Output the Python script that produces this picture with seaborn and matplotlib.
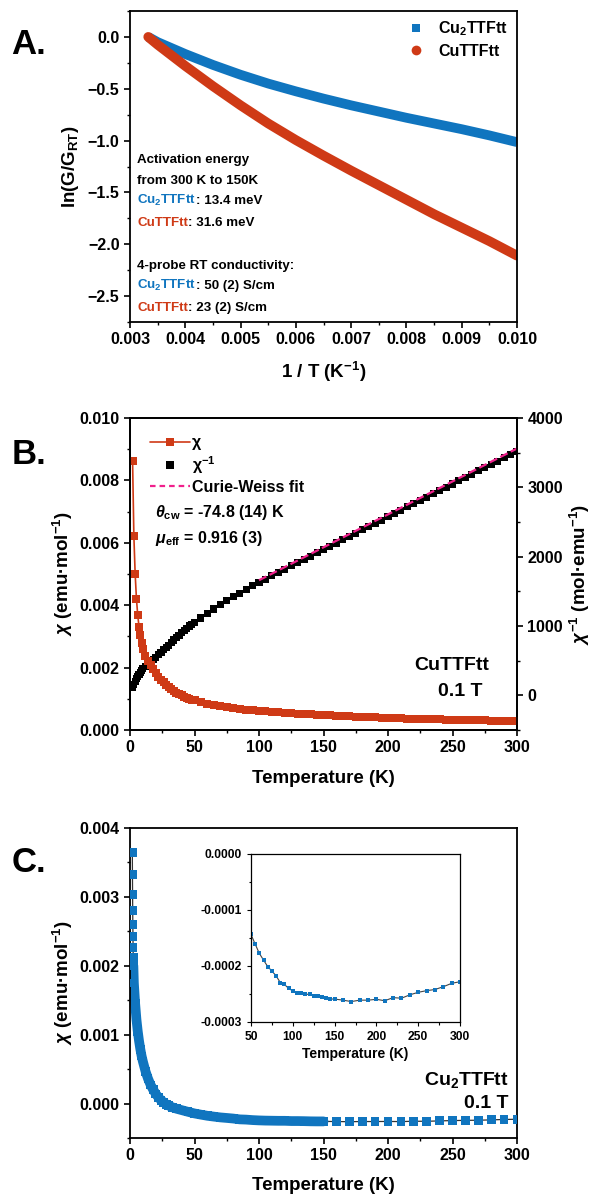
import matplotlib
matplotlib.use("Agg")
import matplotlib.pyplot as plt
from matplotlib.lines import Line2D
from matplotlib.ticker import MultipleLocator, FormatStrFormatter, FuncFormatter
import seaborn as sns

W, H = 592, 1196
BLUE = "#1075BF"
RED = "#CF3A16"
PINK = "#F0208C"

# ----------------------------------------------------------------------
# Panel A: ln(G/G_RT) vs 1/T
# ----------------------------------------------------------------------
inv_T_A = [0.00333, 0.0035, 0.004, 0.0045, 0.005, 0.0055, 0.006, 0.0065,
           0.007, 0.0075, 0.008, 0.0085, 0.009, 0.0095, 0.010]
ln_cu2_A = [0.0, -0.05, -0.165, -0.27, -0.365, -0.45, -0.525, -0.595,
            -0.66, -0.72, -0.78, -0.835, -0.89, -0.95, -1.015]
ln_cu_A = [0.0, -0.075, -0.28, -0.475, -0.66, -0.835, -0.995, -1.145,
           -1.29, -1.43, -1.57, -1.71, -1.84, -1.97, -2.11]

# ----------------------------------------------------------------------
# Panel B: CuTTFtt susceptibility (chi^-1 read off, chi = 1/chi^-1)
# ----------------------------------------------------------------------
T_B = [2, 3, 4, 5, 6, 7, 8, 9, 10,
       12, 14, 16, 18, 20, 22, 24, 26, 28, 30, 32, 34, 36, 38, 40, 42, 44, 46, 48, 50,
       55, 60, 65, 70, 75, 80, 85, 90, 95, 100,
       105, 110, 115, 120, 125, 130, 135, 140, 145, 150, 155, 160, 165, 170, 175,
       180, 185, 190, 195, 200, 205, 210, 215, 220, 225, 230, 235, 240, 245, 250,
       255, 260, 265, 270, 275, 280, 285, 290, 295, 300]
chi_inv_B = [116, 161, 200, 238, 272, 302, 330, 358, 385,
             420, 452, 482, 515, 550, 585, 620, 655, 690, 725, 762, 798, 833, 868, 903,
             938, 970, 1000, 1025, 1050,
             1115, 1180, 1245, 1305, 1365, 1420, 1475, 1528, 1580, 1630,
             1677, 1725, 1772, 1819, 1866, 1914, 1961, 2008, 2055, 2103, 2150, 2197,
             2244, 2292, 2339, 2386, 2433, 2481, 2528, 2575, 2622, 2670, 2717, 2764,
             2811, 2859, 2906, 2953, 3000, 3048, 3095, 3142, 3189, 3237, 3284, 3331,
             3378, 3426, 3473, 3520]
chi_B = [1.0 / v for v in chi_inv_B]
cw_T = [100, 300]
cw_inv = [1660, 3560]

# ----------------------------------------------------------------------
# Panel C: Cu2TTFtt susceptibility (units of 1e-3 emu/mol)
# ----------------------------------------------------------------------
T_C = [1.8, 1.9, 2.0, 2.1, 2.2, 2.3, 2.4, 2.5, 2.6,
       3, 4, 5, 6, 7, 8, 9, 10, 12, 14, 16, 18, 20, 22, 24, 26, 28, 30, 33, 36, 40, 45,
       50, 55, 60, 65, 70, 75, 80, 85, 90, 95, 100, 105, 110, 115, 120, 125, 130,
       135, 140, 145, 150,
       160, 170, 180, 190, 200, 210, 220, 230, 240, 250, 260, 270, 280, 290, 300]
chi_C = [3.65, 3.33, 3.04, 2.80, 2.60, 2.42, 2.27, 2.12, 2.00,
         1.75, 1.45, 1.22, 1.05, 0.91, 0.79, 0.69, 0.61, 0.47, 0.36, 0.27, 0.20, 0.14,
         0.09, 0.05, 0.02, -0.01, -0.03, -0.055, -0.075, -0.095, -0.12,
         -0.1435, -0.161, -0.1775, -0.1895, -0.201, -0.209, -0.2175, -0.2295, -0.233,
         -0.240, -0.2445, -0.2475, -0.249, -0.2505, -0.2505, -0.254, -0.254, -0.2555,
         -0.258, -0.259, -0.259,
         -0.261, -0.2635, -0.261, -0.261, -0.2595, -0.262, -0.2565, -0.2575, -0.2515,
         -0.247, -0.244, -0.242, -0.237, -0.231, -0.228]
chi_C = [v * 1e-3 for v in chi_C]

sns.set_theme(style="ticks", rc={
    "axes.linewidth": 1.3,
    "axes.edgecolor": "black",
    "axes.labelcolor": "black",
    "text.color": "black",
    "xtick.color": "black",
    "ytick.color": "black",
    "xtick.direction": "out",
    "ytick.direction": "out",
    "xtick.major.size": 4, "ytick.major.size": 4,
    "xtick.minor.size": 2.5, "ytick.minor.size": 2.5,
    "xtick.major.width": 1.2, "ytick.major.width": 1.2,
    "xtick.minor.width": 1.0, "ytick.minor.width": 1.0,
    "xtick.labelsize": 11.5, "ytick.labelsize": 11.5,
    "axes.labelsize": 13.5,
})
plt.rcParams["font.family"] = ["Liberation Sans", "DejaVu Sans"]
plt.rcParams["font.weight"] = "bold"
plt.rcParams["axes.labelweight"] = "bold"
plt.rcParams["mathtext.fontset"] = "custom"
plt.rcParams["mathtext.rm"] = "Liberation Sans:bold"
plt.rcParams["mathtext.bf"] = "Liberation Sans:bold"
plt.rcParams["mathtext.it"] = "Liberation Sans:italic"

fig = plt.figure(figsize=(W / 100, H / 100), dpi=100)


def box(left, top, right, bottom):
    return [left / W, 1 - bottom / H, (right - left) / W, (bottom - top) / H]


def label_pos(ax, xl=None, yl=None):
    if xl is not None:
        ax.xaxis.label.set_va("center")
        ax.xaxis.set_label_coords(0.5, xl)
    if yl is not None:
        ax.yaxis.label.set_va("center")
        ax.yaxis.label.set_ha("center")
        ax.yaxis.set_label_coords(yl, 0.5)


def put_line(parts, x, y_base, size):
    r = fig.canvas.get_renderer()
    for s, c in parts:
        t = fig.text(x / W, 1 - y_base / H, s, color=c, fontsize=size,
                     fontweight="bold", va="baseline", ha="left")
        x = t.get_window_extent(renderer=r).x1


# ---------------- A ----------------
axA = fig.add_axes(box(130, 11, 517, 322))
sns.lineplot(x=inv_T_A, y=ln_cu2_A, color=BLUE, lw=7, estimator=None, sort=False,
             solid_capstyle="butt", ax=axA)
sns.lineplot(x=inv_T_A, y=ln_cu_A, color=RED, lw=7, estimator=None, sort=False,
             solid_capstyle="round", solid_joinstyle="round", ax=axA)
axA.set_xlim(0.003, 0.010)
axA.set_ylim(-2.75, 0.25)
axA.xaxis.set_major_locator(MultipleLocator(0.001))
axA.xaxis.set_minor_locator(MultipleLocator(0.0005))
axA.xaxis.set_major_formatter(FormatStrFormatter("%.3f"))
axA.yaxis.set_major_locator(MultipleLocator(0.5))
axA.yaxis.set_minor_locator(MultipleLocator(0.25))
axA.yaxis.set_major_formatter(FuncFormatter(lambda v, p: f"{v:.1f}".replace("-", "\u2212")))
axA.set_xlabel(r"1 / T (K$^{-1}$)")
axA.set_ylabel(r"ln(G/G$_{\rm RT}$)")
label_pos(axA, xl=-0.161, yl=-0.155)
hA = [Line2D([], [], ls="none", marker="s", ms=6, color=BLUE, mew=0),
      Line2D([], [], ls="none", marker="o", ms=7, color=RED, mew=0)]
axA.legend(hA, ["Cu$_2$TTFtt", "CuTTFtt"], loc="upper right", frameon=False,
           fontsize=11.5, handlelength=1.0, handletextpad=0.9, labelspacing=0.35,
           borderaxespad=0.15)

fsA = 9.6
put_line([("Activation energy", "black")], 137, 163, fsA)
put_line([("from 300 K to 150K", "black")], 137, 184, fsA)
put_line([("Cu$_2$TTFtt", BLUE), (": 13.4 meV", "black")], 137, 204, fsA)
put_line([("CuTTFtt", RED), (": 31.6 meV", "black")], 137, 226, fsA)
put_line([("4-probe RT conductivity:", "black")], 137, 269, fsA)
put_line([("Cu$_2$TTFtt", BLUE), (": 50 (2) S/cm", "black")], 137, 289, fsA)
put_line([("CuTTFtt", RED), (": 23 (2) S/cm", "black")], 137, 311, fsA)

# ---------------- B ----------------
axB = fig.add_axes(box(130, 418, 517, 730))
axB2 = axB.twinx()
axB.set_zorder(axB2.get_zorder() + 1)
axB.patch.set_visible(False)
sns.scatterplot(x=T_B, y=chi_inv_B, marker="s", s=26, color="black",
                edgecolor="none", linewidth=0, ax=axB2, zorder=3)
sns.lineplot(x=cw_T, y=cw_inv, color=PINK, lw=1.6, linestyle="--",
             dashes=(2.5, 1.8), ax=axB2, zorder=4)
sns.lineplot(x=T_B, y=chi_B, color=RED, lw=1.2, marker="s", markersize=5.2,
             markeredgewidth=0, estimator=None, sort=False, ax=axB)
axB.set_xlim(0, 300)
axB.set_ylim(0, 0.010)
axB2.set_ylim(-500, 4000)
axB.xaxis.set_major_locator(MultipleLocator(50))
axB.xaxis.set_minor_locator(MultipleLocator(25))
axB.yaxis.set_major_locator(MultipleLocator(0.002))
axB.yaxis.set_minor_locator(MultipleLocator(0.001))
axB.yaxis.set_major_formatter(FormatStrFormatter("%.3f"))
axB2.yaxis.set_major_locator(MultipleLocator(1000))
axB2.yaxis.set_minor_locator(MultipleLocator(500))
axB.set_xlabel("Temperature (K)")
axB.set_ylabel(r"$\chi$ (emu·mol$^{-1}$)")
axB2.set_ylabel(r"$\chi^{-1}$ (mol·emu$^{-1}$)")
label_pos(axB, xl=-0.154, yl=-0.173)
axB2.yaxis.label.set_va("center")
axB2.yaxis.label.set_ha("center")
axB2.yaxis.set_label_coords(1.162, 0.5)
hB = [Line2D([], [], color=RED, lw=1.2, marker="s", ms=6, mew=0),
      Line2D([], [], ls="none", color="black", marker="s", ms=6, mew=0),
      Line2D([], [], color=PINK, lw=1.6, ls=(0, (2.5, 1.8)))]
axB.legend(hB, ["\u03c7", "\u03c7$^{-1}$", "Curie-Weiss fit"], loc="upper left",
           bbox_to_anchor=(0.035, 0.965), frameon=False, fontsize=11.5,
           handlelength=2.5, handletextpad=0.15, labelspacing=0.25, borderaxespad=0)
fig.text(155 / W, 1 - 513 / H, r"$\theta_{\rm cw}$ = -74.8 (14) K", fontsize=11.5,
         fontweight="bold", va="center", ha="left")
fig.text(155 / W, 1 - 538 / H, r"$\mu_{\rm eff}$ = 0.916 (3)", fontsize=11.5,
         fontweight="bold", va="center", ha="left")
fig.text(489 / W, 1 - 665 / H, "CuTTFtt", fontsize=14, fontweight="bold",
         va="center", ha="right")
fig.text(483 / W, 1 - 692 / H, "0.1 T", fontsize=14, fontweight="bold",
         va="center", ha="right")

# ---------------- C ----------------
axC = fig.add_axes(box(130, 828, 517, 1138))
dense = [i for i, t in enumerate(T_C) if 2.6 <= t <= 150]
sns.lineplot(x=T_C, y=chi_C, color="#333333", lw=0.9, estimator=None, sort=False,
             ax=axC, zorder=1)
sns.lineplot(x=[T_C[i] for i in dense], y=[chi_C[i] for i in dense], color=BLUE,
             lw=7, estimator=None, sort=False, solid_capstyle="round",
             solid_joinstyle="round", ax=axC, zorder=2)
sns.scatterplot(x=T_C, y=chi_C, marker="s", s=40, color=BLUE, edgecolor="none",
                linewidth=0, ax=axC, zorder=3)
axC.set_xlim(0, 300)
axC.set_ylim(-0.0005, 0.004)
axC.xaxis.set_major_locator(MultipleLocator(50))
axC.xaxis.set_minor_locator(MultipleLocator(25))
axC.yaxis.set_major_locator(MultipleLocator(0.001))
axC.yaxis.set_minor_locator(MultipleLocator(0.0005))
axC.yaxis.set_major_formatter(FormatStrFormatter("%.3f"))
axC.set_xlabel("Temperature (K)")
axC.set_ylabel(r"$\chi$ (emu·mol$^{-1}$)")
label_pos(axC, xl=-0.152, yl=-0.173)
fig.text(509 / W, 1 - 1080 / H, "Cu$_2$TTFtt", fontsize=14, fontweight="bold",
         va="center", ha="right")
fig.text(509 / W, 1 - 1103 / H, "0.1 T", fontsize=14, fontweight="bold",
         va="center", ha="right")

# inset
axI = fig.add_axes(box(251, 854, 460, 1022))
ins = [i for i, t in enumerate(T_C) if t >= 50]
sns.lineplot(x=[T_C[i] for i in ins], y=[chi_C[i] for i in ins], color="#444444",
             lw=0.8, marker="s", markersize=3.4, markerfacecolor=BLUE,
             markeredgewidth=0, estimator=None, sort=False, ax=axI)
axI.set_xlim(50, 300)
axI.set_ylim(-0.0003, 0.0)
axI.xaxis.set_major_locator(MultipleLocator(50))
axI.xaxis.set_minor_locator(MultipleLocator(25))
axI.yaxis.set_major_locator(MultipleLocator(0.0001))
axI.yaxis.set_minor_locator(MultipleLocator(0.00005))
axI.yaxis.set_major_formatter(FuncFormatter(lambda v, p: f"{v:.4f}".replace("-0.0000", "0.0000")))
axI.tick_params(which="both", labelsize=8.7, width=0.8)
axI.tick_params(which="major", length=3)
axI.tick_params(which="minor", length=1.8)
for sp in axI.spines.values():
    sp.set_linewidth(0.9)
axI.set_xlabel("Temperature (K)", fontsize=10, labelpad=3)

# panel letters
for letter, yc in [("A.", 45), ("B.", 454), ("C.", 862)]:
    fig.text(29 / W, 1 - yc / H, letter, fontsize=25, fontweight="bold",
             va="center", ha="center")

fig.savefig("out.png", dpi=100)
